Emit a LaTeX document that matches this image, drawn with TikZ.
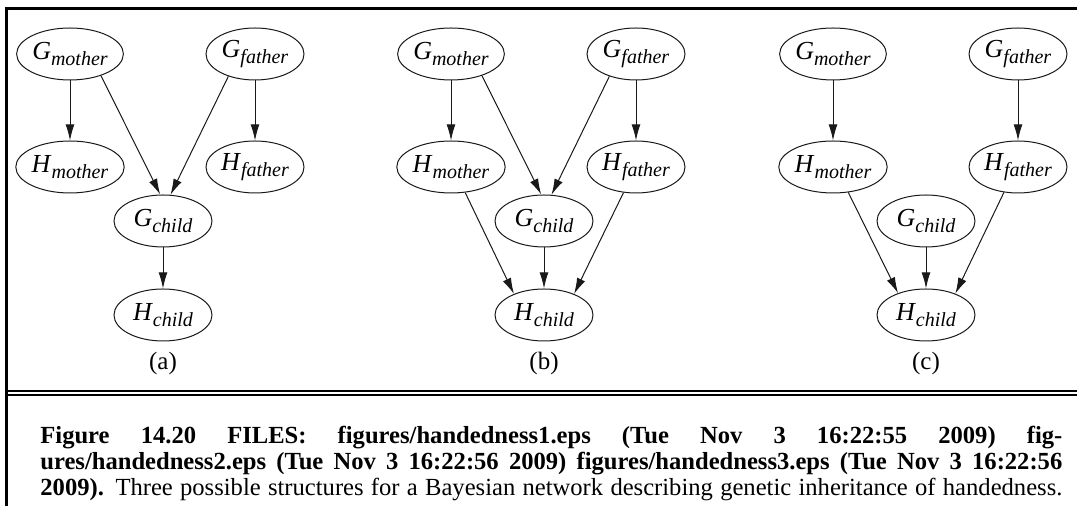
\documentclass[tikz,border=0pt]{standalone}
\usepackage{amsmath}
\usepackage{fontspec}
\setmainfont{Liberation Serif}
\usepackage{tikz}
\usetikzlibrary{arrows.meta,shapes.geometric}
\definecolor{figline}{RGB}{25,25,25}
\tikzset{
  nd/.style  ={draw=figline, ellipse, line width=0.5pt, minimum width=49pt, minimum height=26pt, inner sep=0pt, font=\fontsize{13}{15}\selectfont},
  arr/.style ={draw=figline, line width=0.5pt, -{Latex[length=8pt,width=4.4pt]}},
  frm/.style ={draw=black, line width=1.5pt, line join=miter},
  frd/.style ={draw=black, line width=1pt},
  lab/.style ={font=\fontsize{12.5}{14}\selectfont, inner sep=0pt},
  captxt/.style ={font=\fontsize{12.3}{13}\selectfont, text width=511pt, align=justify, inner sep=0pt, anchor=north west},
}
\newcommand{\vn}[2]{\textit{#1}\raisebox{-0.55ex}{\fontsize{10}{12}\selectfont\textit{#2}}}

\begin{document}
\begin{tikzpicture}[x=0.5pt,y=-0.5pt]
  \useasboundingbox (0,0) rectangle (1077,506);
  % frame
  \draw[frm] (6.5,506) -- (6.5,8.3) -- (1077,8.3);
  \draw[frd] (6.5,391) -- (1077,391);
  \draw[frd] (6.5,395.5) -- (1077,395.5);
  % (a)
  \node[nd] (gma) at (70,54)  {\vn{G}{mother}};
  \node[nd] (gfa) at (255,54) {\vn{G}{father}};
  \node[nd] (hma) at (70,167) {\vn{H}{mother}};
  \node[nd] (hfa) at (255,167) {\vn{H}{father}};
  \node[nd] (gca) at (163,221) {\vn{G}{child}};
  \node[nd] (hca) at (163,315) {\vn{H}{child}};
  \node[lab] (la) at (163,363) {(a)};
  \draw[arr] (gma) -- (hma);
  \draw[arr] (gfa) -- (hfa);
  \draw[arr] (gma.-35) -- (gca.96);
  \draw[arr] (gfa.220) -- (gca.74);
  \draw[arr] (gca) -- (hca);
  % (b)
  \begin{scope}[shift={(381,0)}]
  \node[nd] (gmb) at (70,54)  {\vn{G}{mother}};
  \node[nd] (gfb) at (255,54) {\vn{G}{father}};
  \node[nd] (hmb) at (70,167) {\vn{H}{mother}};
  \node[nd] (hfb) at (255,167) {\vn{H}{father}};
  \node[nd] (gcb) at (163,221) {\vn{G}{child}};
  \node[nd] (hcb) at (163,315) {\vn{H}{child}};
  \node[lab] (lb) at (163,363) {(b)};
  \end{scope}
  \draw[arr] (gmb) -- (hmb);
  \draw[arr] (gfb) -- (hfb);
  \draw[arr] (gmb.-35) -- (gcb.96);
  \draw[arr] (gfb.220) -- (gcb.74);
  \draw[arr] (hmb.-61) -- (hcb.145);
  \draw[arr] (hfb.-116) -- (hcb.35);
  \draw[arr] (gcb) -- (hcb);
  % (c)
  \begin{scope}[shift={(763,0)}]
  \node[nd] (gmc) at (70,54)  {\vn{G}{mother}};
  \node[nd] (gfc) at (255,54) {\vn{G}{father}};
  \node[nd] (hmc) at (70,167) {\vn{H}{mother}};
  \node[nd] (hfc) at (255,167) {\vn{H}{father}};
  \node[nd] (gcc) at (163,221) {\vn{G}{child}};
  \node[nd] (hcc) at (163,315) {\vn{H}{child}};
  \node[lab] (lc) at (163,363) {(c)};
  \end{scope}
  \draw[arr] (gmc) -- (hmc);
  \draw[arr] (gfc) -- (hfc);
  \draw[arr] (hmc.-59) -- (hcc.142);
  \draw[arr] (hfc.-119) -- (hcc.36);
  \draw[arr] (gcc) -- (hcc);
  % caption
  \node[captxt] (cpt) at (40,426) {\noindent\parfillskip=0pt
    \textbf{Figure 14.20 FILES: figures/handedness1.eps (Tue Nov 3 16:22:55 2009) fig-\linebreak
    ures/handedness2.eps (Tue Nov 3 16:22:56 2009) figures/handedness3.eps (Tue Nov 3 16:22:56\linebreak
    2009).} Three possible structures for a Bayesian network describing genetic inheritance of handedness.\par};
\end{tikzpicture}
\end{document}
